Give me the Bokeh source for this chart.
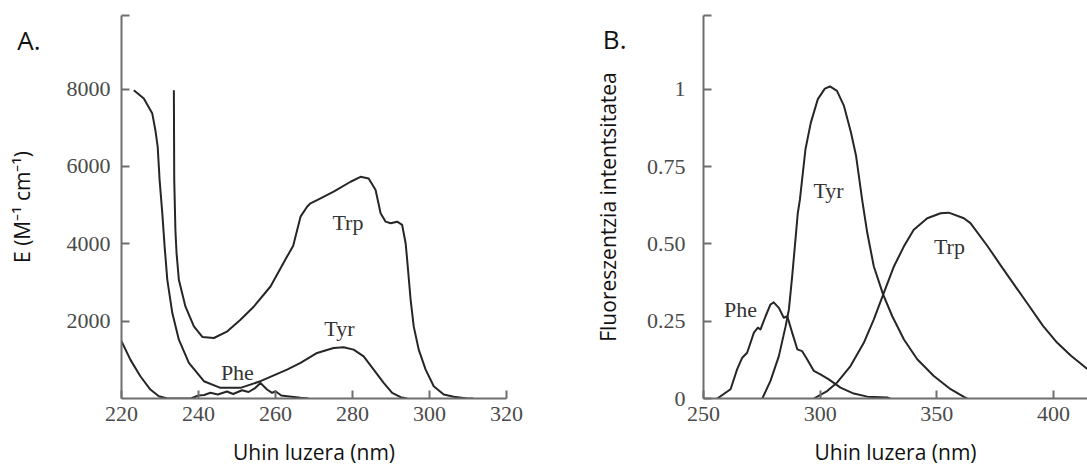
import math
from bokeh.plotting import figure
from bokeh.layouts import row
from bokeh.models import Label, FixedTicker, CustomJSTickFormatter, Range1d, LinearAxis
from bokeh.embed import file_html
from bokeh.resources import INLINE

# ---------------- Panel A: absorption ----------------
A_phe_nm = [220, 222.3, 224.9, 227.5, 229.7, 231.9, 238, 240, 241.5, 243.1, 245, 247.4, 249,
            251.3, 253, 254.8, 256.1, 257.8, 259.1, 260, 261.5, 263, 266.5, 268.6]
A_phe = [1480, 1005, 575, 232, 60, 0, 0, 77, 90, 147, 103, 180, 116,
         214, 168, 276, 400, 232, 147, 188, 77, 59, 18, 0]

A_tyr_nm = [223.2, 225.8, 228.0, 228.8, 229.4, 229.9, 230.6, 231.2, 231.9, 233.2, 234.9, 237.5,
            241.4, 245.7, 250.9, 256.1, 263.0, 266.5, 270.8, 275.1, 277.7, 280.3, 282.9, 285.5,
            288.1, 290.3, 292.5, 294.2]
A_tyr = [7966, 7752, 7365, 6935, 6505, 5646, 4787, 3926, 3068, 2209, 1521, 920,
         447, 275, 275, 447, 748, 920, 1178, 1307, 1323, 1263, 1090, 748,
         405, 147, 34, 0]

A_trp_nm = [233.6, 233.7, 234.0, 234.3, 234.9, 236.6, 238.8, 241.0, 244.0, 247.5, 250.9, 254.4,
            258.7, 263.0, 264.6, 266.5, 268.2, 269.1, 271.7, 275.1, 279.5, 282.1, 284.2, 286.0,
            287.3, 288.6, 289.9, 291.6, 292.9, 293.8, 294.2, 295.1, 295.9, 297.2, 299.0, 301.1,
            303.7, 306.3, 309.8, 311.4]
A_trp = [7966, 5646, 4357, 3755, 3068, 2380, 1864, 1590, 1564, 1736, 2037, 2380,
         2895, 3668, 3950, 4700, 4958, 5045, 5174, 5345, 5603, 5731, 5689, 5388,
         4787, 4571, 4529, 4571, 4486, 4014, 3583, 2552, 1864, 1263, 748, 318,
         103, 43, 0, 0]

A_xticks = [220, 240, 260, 280, 300, 320]
A_yticks = [2000, 4000, 6000, 8000]

# ---------------- Panel B: fluorescence ----------------
B_phe_nm = [255.9, 261.6, 264.4, 266.6, 268.7, 271.6, 273.3, 274.4, 276.6, 278.7, 280.1, 282.3,
            284.4, 285.9, 288.0, 290.2, 292.3, 294.4, 297.3, 300.1, 303.7, 308.7, 314.4, 320.2,
            328.7, 330.0]
B_phe = [0, 0.03, 0.094, 0.132, 0.148, 0.213, 0.229, 0.223, 0.266, 0.304, 0.311, 0.293,
         0.261, 0.266, 0.213, 0.159, 0.153, 0.127, 0.089, 0.078, 0.062, 0.035, 0.016, 0.006,
         0.003, 0.0]

B_tyr_nm = [275.2, 278.7, 282.3, 285.2, 286.6, 288.0, 289.4, 290.4, 291.3, 293.7, 296.0, 299.0,
            302.0, 304.2, 307.2, 310.2, 313.2, 315.4, 318.0, 320.2, 323.0, 327.0, 330.9, 335.9,
            341.6, 348.7, 355.9, 361.6, 363.0]
B_tyr = [0, 0.057, 0.137, 0.234, 0.288, 0.395, 0.513, 0.599, 0.642, 0.806, 0.892, 0.968,
         1.002, 1.009, 0.995, 0.946, 0.86, 0.784, 0.642, 0.535, 0.427, 0.336, 0.266, 0.191,
         0.127, 0.073, 0.03, 0.005, 0]

B_trp_nm = [297.3, 303.0, 307.3, 313.0, 318.7, 323.0, 327.0, 331.6, 335.9, 340.1, 345.9, 351.6,
            355.1, 361.6, 364.4, 371.6, 377.5, 383.5, 389.5, 395.5, 401.5, 407.5, 412.0, 415.0]
B_trp = [0, 0.024, 0.052, 0.105, 0.18, 0.256, 0.336, 0.427, 0.492, 0.546, 0.583, 0.599,
         0.601, 0.583, 0.567, 0.494, 0.429, 0.364, 0.30, 0.235, 0.181, 0.138, 0.111, 0.092]

B_xticks = [250, 300, 350, 400]
B_yticks = [0, 0.25, 0.5, 0.75, 1]

XLABEL = "Uhin luzera (nm)"
A_YLABEL = "E (M\u207b\u00b9 cm\u207b\u00b9)"
B_YLABEL = "Fluoreszentzia intentsitatea"
A_TAG, B_TAG = "A.", "B."

LINE = "#262626"
AXIS = "#6e6e6e"
TICKTXT = "#4a4a4a"
SERIF = "Liberation Serif"
SANS = "Open Sans"


def style(p, xticks, yticks, yfmt, ystand, xlabel):
    p.xgrid.visible = False
    p.ygrid.visible = False
    p.outline_line_color = None
    for ax in (p.xaxis[0], p.yaxis[0]):
        ax.axis_line_color = AXIS
        ax.axis_line_width = 2
        ax.major_tick_line_color = AXIS
        ax.major_tick_line_width = 2
        ax.major_tick_in = 8
        ax.major_tick_out = 0
        ax.minor_tick_in = 0
        ax.minor_tick_out = 0
        ax.major_label_text_font = SERIF
        ax.major_label_text_font_size = "22px"
        ax.major_label_text_color = TICKTXT
        ax.axis_label_text_font = SANS
        ax.axis_label_text_font_size = "21px"
        ax.axis_label_text_font_style = "normal"
        ax.axis_label_text_color = "#111111"
    p.xaxis[0].ticker = FixedTicker(ticks=xticks)
    p.xaxis[0].major_label_standoff = 8
    p.xaxis[0].axis_label = xlabel
    p.xaxis[0].axis_label_standoff = 14
    p.xaxis[0].axis_label_text_line_height = 1.0
    p.yaxis[0].ticker = FixedTicker(ticks=yticks)
    p.yaxis[0].formatter = CustomJSTickFormatter(code=yfmt)
    p.yaxis[0].major_label_standoff = ystand


def tag_axis(p, tag, ytick, ylabel, tag_standoff, label_standoff):
    # outer left axis: carries the panel letter (as its single tick label) and the y title
    ax = LinearAxis(ticker=FixedTicker(ticks=[ytick]),
                    formatter=CustomJSTickFormatter(code="return '%s';" % tag),
                    axis_label=ylabel)
    ax.axis_line_color = None
    ax.major_tick_line_color = None
    ax.minor_tick_line_color = None
    ax.major_tick_in = 0
    ax.major_tick_out = 0
    ax.minor_tick_in = 0
    ax.minor_tick_out = 0
    ax.major_label_text_font = SANS
    ax.major_label_text_font_size = "26px"
    ax.major_label_text_color = "#111111"
    ax.major_label_standoff = tag_standoff
    ax.axis_label_text_font = SANS
    ax.axis_label_text_font_size = "21px"
    ax.axis_label_text_font_style = "normal"
    ax.axis_label_text_color = "#111111"
    ax.axis_label_standoff = label_standoff
    p.add_layout(ax, "left")


# ---- Figure A ----
pA = figure(width=568, height=468, x_range=Range1d(220, 320), y_range=Range1d(0, 9900),
            output_backend="svg", toolbar_location=None,
            min_border_left=121, min_border_right=62, min_border_top=15, min_border_bottom=69)
style(pA, A_xticks, A_yticks + [9899],
      "return tick > 9000 ? '' : tick.toFixed(0);", 11, XLABEL)
tag_axis(pA, A_TAG, 9255, A_YLABEL, 23, -22)

for xs, ys in ((A_phe_nm, A_phe), (A_tyr_nm, A_tyr), (A_trp_nm, A_trp)):
    pA.line(xs, ys, line_color=LINE, line_width=2, line_join="round")

for txt, x, y in (("Trp", 278.8, 4560), ("Tyr", 276.6, 1805), ("Phe", 250.1, 660)):
    pA.add_layout(Label(x=x, y=y, text=txt, text_font=SERIF, text_font_size="22px",
                        text_color="#333333", text_align="center", text_baseline="middle"))

# ---- Figure B ----
pB = figure(width=519, height=468, x_range=Range1d(250, 414.57), y_range=Range1d(0, 1.2385),
            output_backend="svg", toolbar_location=None,
            min_border_left=135, min_border_right=0, min_border_top=15, min_border_bottom=69)
style(pB, B_xticks, B_yticks + [1.238],
      "if (tick > 1.1) { return ''; } if (tick == 0 || tick == 1) { return tick.toFixed(0); } return tick.toFixed(2);",
      18, XLABEL)
tag_axis(pB, B_TAG, 1.161, B_YLABEL, 17, -22)

for xs, ys in ((B_phe_nm, B_phe), (B_tyr_nm, B_tyr), (B_trp_nm, B_trp)):
    pB.line(xs, ys, line_color=LINE, line_width=2, line_join="round")

for txt, x, y in (("Tyr", 303.6, 0.674), ("Trp", 355.4, 0.490), ("Phe", 265.9, 0.287)):
    pB.add_layout(Label(x=x, y=y, text=txt, text_font=SERIF, text_font_size="22px",
                        text_color="#333333", text_align="center", text_baseline="middle"))

layout = row(pA, pB)
open("out.html", "w").write(file_html(layout, INLINE))
